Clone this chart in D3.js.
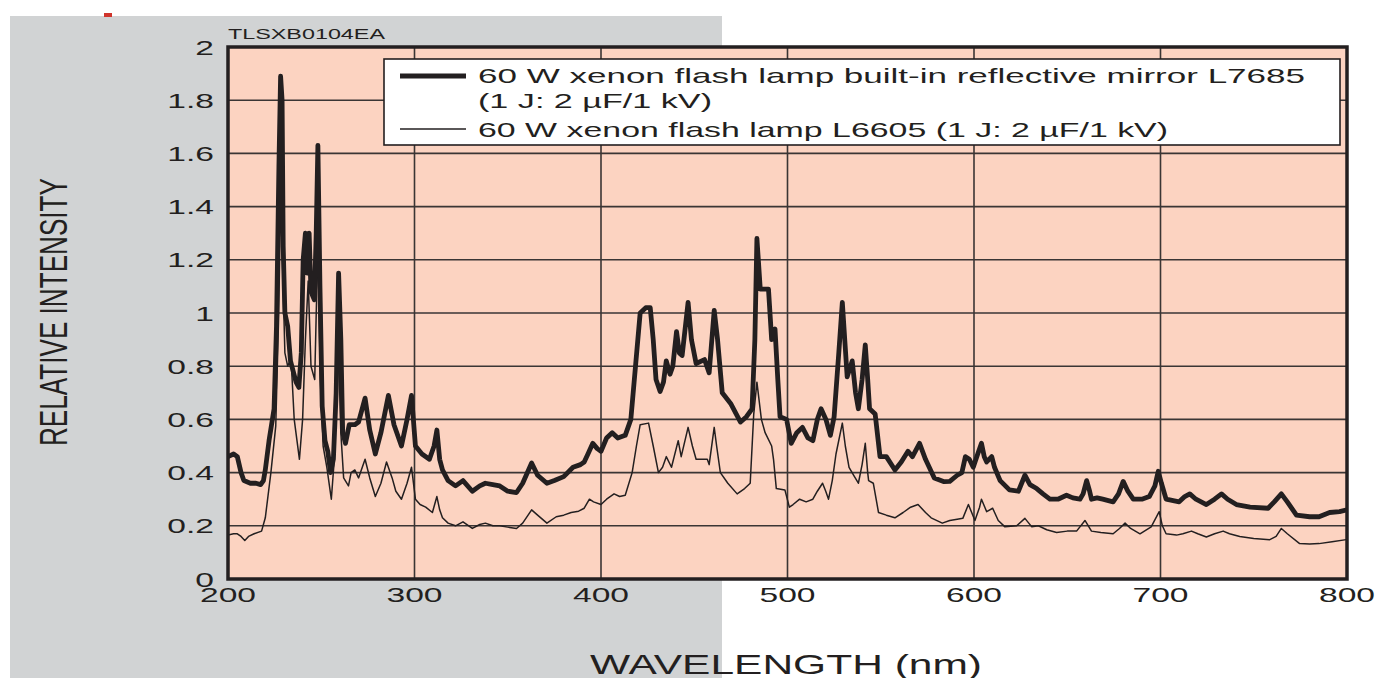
<!DOCTYPE html>
<html><head><meta charset="utf-8">
<script src="https://cdn.jsdelivr.net/npm/d3@7"></script>
<style>html,body{margin:0;padding:0;background:#fff;}svg{display:block;}</style>
</head><body>
<svg id="chart" width="1378" height="678"></svg>
<script>
// ---- data ----
const xTicks = [200, 300, 400, 500, 600, 700, 800];
const yTicks = [0, 0.2, 0.4, 0.6, 0.8, 1, 1.2, 1.4, 1.6, 1.8, 2];
const yTickLabels = ["0", "0.2", "0.4", "0.6", "0.8", "1", "1.2", "1.4", "1.6", "1.8", "2"];
const seriesNames = ["60 W xenon flash lamp built-in reflective mirror L7685", "(1 J: 2 µF/1 kV)", "60 W xenon flash lamp L6605 (1 J: 2 µF/1 kV)"];
const chartCode = "TLSXB0104EA";
const xTitle = "WAVELENGTH (nm)";
const yTitle = "RELATIVE INTENSITY";

const wlL7685 = [200,203,205,207,208.5,212,215,217.5,219,220,222,224.7,226,227.3,228.2,229,229.6,230.5,232,233.5,235,236.5,238,239.3,240.3,241.5,242.5,243.5,244.5,246.3,247.3,248.2,249.3,250.5,252,253.5,255,256.5,258,259.3,260.5,261.5,263,265,268,270,273.5,276,279,282,286,289,293,296,298.4,300.5,304,308,310.5,312,313.5,315,318,322,326,331,335,338,342,345.7,350,354.7,358,362.8,366,371,375,380,385,389,391,393,395.6,398,400,403,406,409,413,416,418.5,421,424,426.4,428,429.5,431.7,433.5,435,437,438.5,440.5,442,443.5,446.7,448.5,451,455.5,458,460.7,462.5,465,469.5,474.8,478,481,482.5,483.6,485.4,489.8,491.5,493.3,494.8,496,499.5,502,505,508,511,513.6,516,518,520.6,523,525,527.5,529.4,532,534.7,536.5,538,540,541.7,543,544,547,549.6,553,557.6,561,564.6,567,570.8,574,578.7,584,587,591,593.5,595.4,597.5,599.6,602,604,605.5,606.8,609.5,611,614,619,623.8,627.3,630,633.6,637,640.7,645,649.6,653,656.8,658.5,660.4,662,663,666,669,674.6,677.5,680,682.5,685.4,690,694,697,698.8,700.5,703,710,713,715.7,719,724.6,729,732.7,736,740.7,748,757.7,761,764.8,768,772.9,780,785,790.7,796,800];
const intL7685 = [0.46,0.47,0.46,0.40,0.37,0.36,0.36,0.355,0.37,0.41,0.52,0.64,0.95,1.55,1.89,1.80,1.25,1.0,0.95,0.82,0.78,0.74,0.72,0.85,1.2,1.3,1.15,1.3,1.08,1.05,1.3,1.63,1.1,0.65,0.52,0.48,0.40,0.45,0.7,1.15,0.9,0.55,0.51,0.58,0.58,0.59,0.68,0.56,0.47,0.55,0.69,0.58,0.50,0.6,0.69,0.50,0.47,0.45,0.5,0.56,0.45,0.41,0.37,0.35,0.37,0.33,0.35,0.36,0.355,0.35,0.33,0.325,0.36,0.436,0.39,0.36,0.37,0.385,0.42,0.43,0.44,0.47,0.51,0.49,0.48,0.53,0.55,0.53,0.54,0.6,0.8,1.0,1.02,1.02,0.9,0.75,0.705,0.74,0.82,0.77,0.8,0.93,0.85,0.84,1.04,0.9,0.81,0.825,0.775,1.01,0.9,0.7,0.66,0.59,0.61,0.64,0.9,1.28,1.09,1.09,0.9,0.94,0.75,0.61,0.6,0.51,0.55,0.57,0.53,0.52,0.6,0.64,0.6,0.54,0.61,0.85,1.04,0.76,0.82,0.7,0.64,0.75,0.88,0.75,0.64,0.62,0.46,0.46,0.41,0.44,0.48,0.46,0.51,0.45,0.38,0.366,0.367,0.39,0.40,0.46,0.45,0.42,0.47,0.51,0.46,0.44,0.46,0.42,0.37,0.335,0.33,0.39,0.355,0.34,0.32,0.30,0.30,0.315,0.305,0.30,0.32,0.37,0.33,0.30,0.305,0.30,0.29,0.32,0.367,0.33,0.30,0.30,0.31,0.35,0.405,0.36,0.30,0.29,0.31,0.32,0.30,0.28,0.30,0.32,0.30,0.28,0.27,0.266,0.29,0.32,0.29,0.24,0.234,0.234,0.25,0.253,0.26];

const wlL6605 = [200,203,205,207,209,211,214,218,220,223,225.6,227.2,228.2,229.2,230.5,232,233.8,235.5,238.3,240,241.5,243,244.5,246.5,248.2,249.5,251,253,255.4,257,259.2,260.5,262,264.6,266,268,270,273.5,276,279,282,285,288,290,293,296,298.4,300.5,303,306,309.6,312,313.5,315,318,322,326,331,335,338,342,345.7,350,354.7,358,362.8,366,371,376,380,384,388,391,393.8,396,400,403,407,410,413,416.7,419,421,425.5,428,430.8,433,435,437.8,441.4,443,446.7,449,451,457,458,460.7,462,464,468,473,477,480,481.9,483.6,486,488,491.5,492.5,494,498.6,501,503,506.5,510,513.6,516,518.8,520.5,522,524,526,529.4,531,533,535.5,538,540,541.7,543,543.5,546,548.8,553,557.6,562,566,570,574,577,583,587,591,594,597,600.5,603,604,606.8,610,613,616.6,622.9,627.3,631,634.5,639,644.3,650,655,659.5,663,668,674.6,678,681,684,689,695,699.3,701,703,708.6,712,716.6,720,724.6,729,733.6,737,742.5,750,758.6,762,764.8,768,774.6,780,785,792,799.6];
const intL6605 = [0.165,0.17,0.17,0.16,0.145,0.16,0.17,0.18,0.23,0.4,0.575,1.0,1.42,1.2,0.85,0.8,0.83,0.6,0.45,0.6,0.9,1.12,0.8,0.75,1.27,0.75,0.5,0.42,0.30,0.45,0.88,0.55,0.38,0.35,0.4,0.41,0.38,0.45,0.38,0.31,0.36,0.44,0.38,0.33,0.30,0.36,0.42,0.30,0.28,0.27,0.25,0.31,0.26,0.23,0.21,0.20,0.215,0.19,0.205,0.21,0.20,0.20,0.195,0.19,0.21,0.26,0.24,0.21,0.234,0.24,0.25,0.255,0.266,0.30,0.29,0.28,0.30,0.32,0.31,0.315,0.40,0.5,0.58,0.586,0.5,0.40,0.42,0.46,0.42,0.52,0.46,0.57,0.5,0.45,0.45,0.43,0.57,0.5,0.40,0.36,0.32,0.34,0.36,0.62,0.74,0.6,0.55,0.50,0.45,0.34,0.335,0.27,0.28,0.30,0.29,0.30,0.33,0.36,0.33,0.30,0.37,0.47,0.586,0.5,0.42,0.39,0.36,0.43,0.51,0.40,0.37,0.36,0.25,0.24,0.23,0.25,0.27,0.28,0.25,0.23,0.21,0.22,0.225,0.228,0.28,0.22,0.27,0.30,0.253,0.266,0.22,0.196,0.20,0.228,0.196,0.20,0.185,0.175,0.18,0.18,0.22,0.18,0.175,0.17,0.19,0.21,0.19,0.17,0.196,0.253,0.2,0.17,0.165,0.17,0.18,0.17,0.158,0.17,0.18,0.17,0.16,0.152,0.148,0.16,0.19,0.17,0.133,0.132,0.133,0.14,0.148];

// ---- layout ----
const svg = d3.select("#chart");
const FONT = "'Liberation Sans', Arial, Helvetica, sans-serif";
const INK = "#231f20";
const plot = {left: 228, right: 1347, top: 47, bottom: 579};
const x = d3.scaleLinear().domain([200, 800]).range([plot.left, plot.right]);
const y = d3.scaleLinear().domain([0, 2]).range([plot.bottom, plot.top]);

// page backgrounds
svg.append("rect").attr("x", 0).attr("y", 0).attr("width", 1378).attr("height", 678).attr("fill", "#ffffff");
svg.append("rect").attr("x", 10).attr("y", 16).attr("width", 712).attr("height", 662).attr("fill", "#d1d3d4");
svg.append("rect").attr("x", 104).attr("y", 13).attr("width", 8).attr("height", 4).attr("fill", "#d0342c");

// plot area
svg.append("rect").attr("x", plot.left).attr("y", plot.top)
  .attr("width", plot.right - plot.left).attr("height", plot.bottom - plot.top)
  .attr("fill", "#fcd3c1");

// grid
const grid = svg.append("g").attr("stroke", "#3a3534").attr("stroke-width", 1.6);
grid.selectAll("line.v").data(xTicks).join("line")
  .attr("x1", d => x(d)).attr("x2", d => x(d)).attr("y1", plot.top).attr("y2", plot.bottom);
grid.selectAll("line.h").data(yTicks).join("line")
  .attr("x1", plot.left).attr("x2", plot.right).attr("y1", d => y(d)).attr("y2", d => y(d));

// clip
svg.append("clipPath").attr("id", "clip").append("rect")
  .attr("x", plot.left).attr("y", plot.top).attr("width", plot.right - plot.left).attr("height", plot.bottom - plot.top);

const line = d3.line().x(d => x(d[0])).y(d => y(d[1]));
const thinData = d3.zip(wlL6605, intL6605);
const thickData = d3.zip(wlL7685, intL7685);
const curves = svg.append("g").attr("clip-path", "url(#clip)");
curves.append("path").datum(thinData).attr("d", line)
  .attr("fill", "none").attr("stroke", INK).attr("stroke-width", 1.5).attr("stroke-linejoin", "round");
curves.append("path").datum(thickData).attr("d", line)
  .attr("fill", "none").attr("stroke", INK).attr("stroke-width", 4.8).attr("stroke-linejoin", "round");

// stretched text helper
function stext(parent, tx, ty, str, size, sx, anchor, baseline) {
  const g = parent.append("g").attr("transform", `translate(${tx},${ty}) scale(${sx},1)`);
  const t = g.append("text").text(str).attr("font-family", FONT).attr("font-size", size)
    .attr("fill", INK).attr("text-anchor", anchor || "start");
  if (baseline) t.attr("dominant-baseline", baseline);
  return t;
}

// axes (tick labels via d3 axes, then restyled)
const yAxis = d3.axisLeft(y).tickValues(yTicks).tickFormat((d, i) => yTickLabels[i]).tickSize(0).tickPadding(0);
const yg = svg.append("g").attr("transform", `translate(214,0)`).call(yAxis);
yg.select(".domain").remove();
yg.selectAll("text").each(function(d) {
  const t = d3.select(this);
  t.attr("font-family", FONT).attr("font-size", 21).attr("fill", INK).attr("x", 0).attr("dy", "0.36em")
   .attr("transform", `translate(0,0)`);
});
yg.selectAll(".tick").each(function(d) {
  const tk = d3.select(this);
  tk.attr("transform", `translate(0,${y(d)}) scale(1.6,1)`);
});

const xAxis = d3.axisBottom(x).tickValues(xTicks).tickFormat(d3.format("d")).tickSize(0).tickPadding(0);
const xg = svg.append("g").attr("transform", `translate(0,0)`).call(xAxis);
xg.select(".domain").remove();
xg.selectAll(".tick").each(function(d) {
  d3.select(this).attr("transform", `translate(${x(d)},602) scale(1.6,1)`);
});
xg.selectAll("text").attr("font-family", FONT).attr("font-size", 21).attr("fill", INK).attr("y", 0).attr("dy", 0);

// frame
svg.append("rect").attr("x", plot.left).attr("y", plot.top)
  .attr("width", plot.right - plot.left).attr("height", plot.bottom - plot.top)
  .attr("fill", "none").attr("stroke", INK).attr("stroke-width", 3.5);

// legend
const lg = svg.append("g");
lg.append("rect").attr("x", 384).attr("y", 59).attr("width", 956).attr("height", 86)
  .attr("fill", "#ffffff").attr("stroke", INK).attr("stroke-width", 1.6);
lg.append("line").attr("x1", 400).attr("x2", 466).attr("y1", 76).attr("y2", 76).attr("stroke", INK).attr("stroke-width", 4.8);
lg.append("line").attr("x1", 400).attr("x2", 466).attr("y1", 129).attr("y2", 129).attr("stroke", INK).attr("stroke-width", 1.5);
const legendT = [[seriesNames[0], 83, 827], [seriesNames[1], 108, 234], [seriesNames[2], 137, 690]];
legendT.forEach(([s, by, w]) => {
  lg.append("text").attr("x", 478).attr("y", by).text(s)
    .attr("font-family", FONT).attr("font-size", 21).attr("fill", INK)
    .attr("textLength", w).attr("lengthAdjust", "spacingAndGlyphs");
});

// code label
svg.append("text").attr("x", 228).attr("y", 39).text(chartCode)
  .attr("font-family", FONT).attr("font-size", 15).attr("fill", INK)
  .attr("textLength", 157).attr("lengthAdjust", "spacingAndGlyphs");

// axis titles
svg.append("text").attr("x", 590).attr("y", 674).text(xTitle)
  .attr("font-family", FONT).attr("font-size", 28).attr("fill", INK)
  .attr("textLength", 392).attr("lengthAdjust", "spacingAndGlyphs");
svg.append("text").attr("transform", "translate(67,446) rotate(-90)").text(yTitle)
  .attr("font-family", FONT).attr("font-size", 38).attr("fill", INK)
  .attr("textLength", 268).attr("lengthAdjust", "spacingAndGlyphs");
</script>
</body></html>
